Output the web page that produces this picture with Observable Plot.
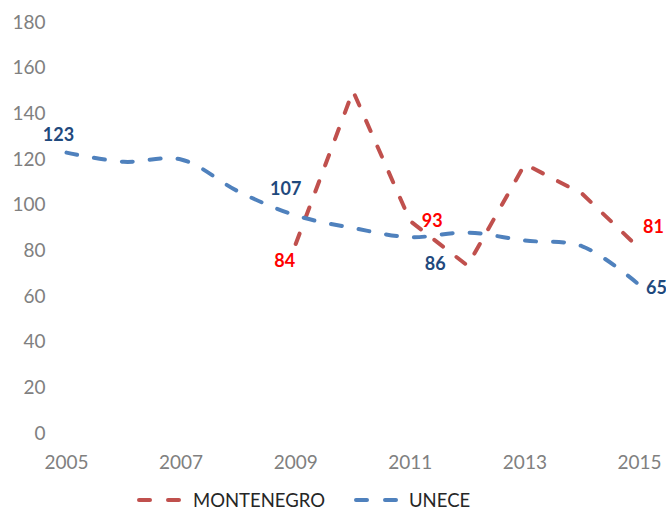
<!DOCTYPE html>
<html>
<head>
<meta charset="utf-8">
<script src="https://cdn.jsdelivr.net/npm/d3@7"></script>
<script src="https://cdn.jsdelivr.net/npm/@observablehq/plot@0.6"></script>
<style>
  html, body { margin: 0; padding: 0; background: #fff; }
  #wrap { position: relative; width: 666px; height: 510px; font-family: Lato, "Open Sans", sans-serif; }
  .leg { position: absolute; top: 487px; height: 26px; line-height: 26px; font-size: 18.5px; color: #262626; }
  .sw { position: absolute; top: 496px; }
</style>
</head>
<body>
<div id="wrap"></div>
<script>
// ---- data ----
const years = [2005, 2006, 2007, 2008, 2009, 2010, 2011, 2012, 2013, 2014, 2015];
const uneceValues = [123, 119, 120, 106, 95.5, 90, 86, 88, 84.5, 82, 65];
const montenegroYears = [2009, 2010, 2011, 2012, 2013, 2014, 2015];
const montenegroValues = [83, 150, 93, 73.5, 118, 105, 81];
const xTicks = [2005, 2007, 2009, 2011, 2013, 2015];
const yTicks = [0, 20, 40, 60, 80, 100, 120, 140, 160, 180];
const seriesNames = ["MONTENEGRO", "UNECE"];
// data labels (text as shown on the chart), anchored at a series point
const labelSeries = ["UNECE", "UNECE", "MONTENEGRO", "MONTENEGRO", "UNECE", "MONTENEGRO", "UNECE"];
const labelYears  = [2005, 2009, 2009, 2011, 2011, 2015, 2015];
const labelTexts  = ["123", "107", "84", "93", "86", "81", "65"];

const colors = {MONTENEGRO: "#C0504D", UNECE: "#4F81BD"};
const labelColors = {MONTENEGRO: "#FF0000", UNECE: "#1F497D"};

const unece = years.map((y, i) => ({year: y, value: uneceValues[i]}));
const montenegro = montenegroYears.map((y, i) => ({year: y, value: montenegroValues[i]}));
const lookup = {UNECE: unece, MONTENEGRO: montenegro};
const labels = labelTexts.map((t, i) => {
  const p = lookup[labelSeries[i]].find(d => d.year === labelYears[i]);
  return {series: labelSeries[i], year: p.year, value: p.value, text: t};
});
// label offsets (layout, not data)
const offsets = [[-8, -17], [-10, -26], [-11, 17], [22, 0], [25, 27], [14, -21], [17, 3]];

const dash = {strokeWidth: 4, strokeDasharray: "11,17", strokeLinecap: "round", strokeLinejoin: "round"};

const plot = Plot.plot({
  width: 666,
  height: 482,
  marginLeft: 66,
  marginRight: 27,
  marginTop: 22,
  marginBottom: 49,
  style: {fontFamily: "Lato, 'Open Sans', sans-serif", fontSize: "19px", color: "#808080", background: "white", overflow: "visible"},
  x: {domain: [2005, 2015], ticks: xTicks, tickFormat: d => String(d), tickSize: 0, tickPadding: 22, label: null},
  y: {domain: [0, 180], ticks: yTicks, tickSize: 0, tickPadding: 21, label: null},
  marks: [
    Plot.axisX({ticks: xTicks, tickFormat: d => String(d), tickSize: 0, tickPadding: 22, label: null}),
    Plot.axisY({ticks: yTicks, tickSize: 0, tickPadding: 21, label: null}),
    Plot.line(montenegro, {x: "year", y: "value", stroke: colors.MONTENEGRO, ...dash}),
    Plot.line(unece, {x: "year", y: "value", stroke: colors.UNECE, curve: "catmull-rom", ...dash}),
    ...labels.map((d, i) => Plot.text([d], {
      x: "year", y: "value", text: "text",
      fill: labelColors[d.series], fontWeight: "bold", fontSize: 18,
      dx: offsets[i][0], dy: offsets[i][1]
    }))
  ]
});
const wrap = document.getElementById("wrap");
wrap.appendChild(plot);

// legend below the chart
const legendPos = {MONTENEGRO: [137, 193], UNECE: [354, 409]};
seriesNames.forEach(name => {
  const [sx, tx] = legendPos[name];
  const sw = document.createElementNS("http://www.w3.org/2000/svg", "svg");
  sw.setAttribute("width", 46); sw.setAttribute("height", 8);
  sw.setAttribute("class", "sw");
  sw.style.left = sx + "px";
  const ln = document.createElementNS("http://www.w3.org/2000/svg", "line");
  ln.setAttribute("x1", 2); ln.setAttribute("x2", 44); ln.setAttribute("y1", 4); ln.setAttribute("y2", 4);
  ln.setAttribute("stroke", colors[name]); ln.setAttribute("stroke-width", 4);
  ln.setAttribute("stroke-dasharray", "11,18"); ln.setAttribute("stroke-linecap", "round");
  sw.appendChild(ln);
  wrap.appendChild(sw);
  const t = document.createElement("div");
  t.className = "leg"; t.style.left = tx + "px"; t.textContent = name;
  wrap.appendChild(t);
});
</script>
</body>
</html>
